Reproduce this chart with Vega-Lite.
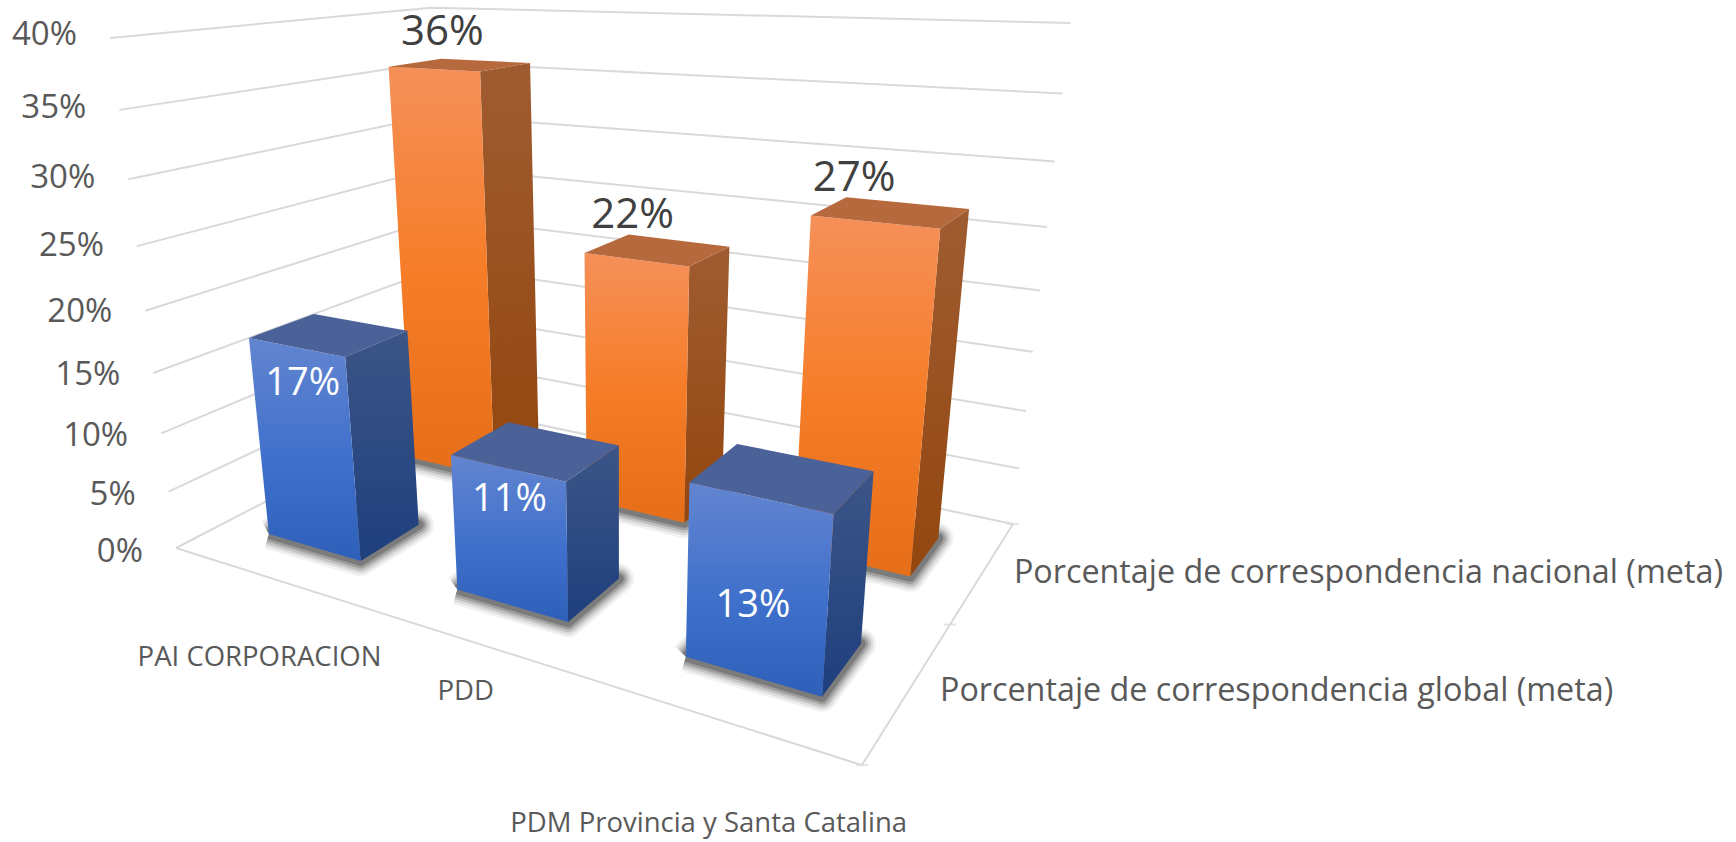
{
"$schema":"https://vega.github.io/schema/vega-lite/v6.json",
"width":1736,"height":842,"padding":0,"autosize":{"type":"none"},
"background":"white",
"config":{"view":{"stroke":null},"text":{"font":"Open Sans"}},
"datasets":{
"barras":[
{"plan":"PAI CORPORACION","serie":"Porcentaje de correspondencia global (meta)","valor":0.17},
{"plan":"PDD","serie":"Porcentaje de correspondencia global (meta)","valor":0.11},
{"plan":"PDM Provincia y Santa Catalina","serie":"Porcentaje de correspondencia global (meta)","valor":0.13},
{"plan":"PAI CORPORACION","serie":"Porcentaje de correspondencia nacional (meta)","valor":0.36},
{"plan":"PDD","serie":"Porcentaje de correspondencia nacional (meta)","valor":0.22},
{"plan":"PDM Provincia y Santa Catalina","serie":"Porcentaje de correspondencia nacional (meta)","valor":0.27}
],
"niveles":[{"nivel":0},{"nivel":0.05},{"nivel":0.1},{"nivel":0.15},{"nivel":0.2},{"nivel":0.25},{"nivel":0.3},{"nivel":0.35},{"nivel":0.4}],
"series":[{"serie":"Porcentaje de correspondencia global (meta)"},{"serie":"Porcentaje de correspondencia nacional (meta)"}],
"marcas":[{"k":0},{"k":1},{"k":2}]
},
"data":{"name":"barras"},
"transform":[
{"calculate":"indexof(['PAI CORPORACION','PDD','PDM Provincia y Santa Catalina'],datum.plan)","as":"i"},
{"calculate":"indexof(['Porcentaje de correspondencia global (meta)','Porcentaje de correspondencia nacional (meta)'],datum.serie)","as":"j"},
{"calculate":"['frente','lado','tapa','sombra']","as":"cara"},
{"flatten":["cara"]},
{"calculate":"[0,1,2,3,4]","as":"esq"},
{"flatten":["esq"]},
{"calculate":"datum.esq%4","as":"e"},
{"calculate":"(datum.i+(datum.cara=='lado'?0.76:((datum.e==1||datum.e==2)?0.76:(datum.j==1?0.267:0.25))))/3","as":"s"},
{"calculate":"(datum.j+(datum.cara=='frente'?0.3:(datum.cara=='lado'?((datum.e==1||datum.e==2)?0.7:0.3):(datum.e>=2?0.7:0.3))))/2","as":"t"},
{"calculate":"datum.cara=='sombra'?0:(datum.cara=='tapa'?datum.valor/0.4:(datum.e>=2?datum.valor/0.4:0))","as":"z"},
{"calculate":"1-0.26855*datum.s+0.2905*datum.t-0.13*datum.z","as":"W"},
{"calculate":"(454.5*datum.s+404.7*datum.t+176-80.3*datum.z)/datum.W","as":"X"},
{"calculate":"(11.6*datum.s-24.1*datum.t+548-515*datum.z)/datum.W","as":"Y"},
{"calculate":"(datum.i+0.5)/3","as":"sc"},
{"calculate":"(datum.j+0.5)/2","as":"tc"},
{"calculate":"1-0.26855*datum.sc+0.2905*datum.tc-0.13*datum.valor/0.4","as":"Wc"},
{"calculate":"(454.5*datum.sc+404.7*datum.tc+176-80.3*datum.valor/0.4)/datum.Wc","as":"Xc"},
{"calculate":"(11.6*datum.sc-24.1*datum.tc+548-515*datum.valor/0.4)/datum.Wc","as":"Yc"},
{"calculate":"1-0.26855*datum.sc","as":"Wb"},
{"calculate":"(454.5*datum.sc+176)/datum.Wb","as":"Xb"},
{"calculate":"(11.6*datum.sc+548)/datum.Wb","as":"Yb"}
],
"encoding":{
"x":{"field":"X","type":"quantitative","scale":{"domain":[0,1736],"nice":false,"zero":false},"axis":null},
"y":{"field":"Y","type":"quantitative","scale":{"domain":[842,0],"nice":false,"zero":false},"axis":null}
},
"layer":[
{"data":{"name":"niveles"},
"transform":[{"calculate":"[0,1,2]","as":"p"},{"flatten":["p"]},
{"calculate":"datum.p==2?1:0","as":"s"},{"calculate":"datum.p==0?0:1","as":"t"},{"calculate":"datum.nivel/0.4","as":"z"},
{"calculate":"1-0.26855*datum.s+0.2905*datum.t-0.13*datum.z","as":"W"},
{"calculate":"(454.5*datum.s+404.7*datum.t+176-80.3*datum.z)/datum.W","as":"X"},
{"calculate":"(11.6*datum.s-24.1*datum.t+548-515*datum.z)/datum.W","as":"Y"}],
"mark":{"type":"line","stroke":"#d9d9d9","strokeWidth":2,"clip":true},
"encoding":{"detail":{"field":"nivel"},"order":{"field":"p","type":"ordinal"}}},
{"data":{"name":"niveles"},
"transform":[{"filter":"datum.nivel==0"},{"calculate":"[0,1,2]","as":"p"},{"flatten":["p"]},
{"calculate":"datum.p==0?0:1","as":"s"},{"calculate":"datum.p==2?1:0","as":"t"},
{"calculate":"1-0.26855*datum.s+0.2905*datum.t","as":"W"},
{"calculate":"(454.5*datum.s+404.7*datum.t+176)/datum.W","as":"X"},
{"calculate":"(11.6*datum.s-24.1*datum.t+548)/datum.W","as":"Y"}],
"mark":{"type":"line","stroke":"#d9d9d9","strokeWidth":2},
"encoding":{"order":{"field":"p","type":"ordinal"}}},
{"data":{"name":"marcas"},
"transform":[{"calculate":"datum.k/2","as":"t"},
{"calculate":"0.73145+0.2905*datum.t","as":"W"},
{"calculate":"(630.5+404.7*datum.t)/datum.W","as":"X"},
{"calculate":"(559.6-24.1*datum.t)/datum.W","as":"Y"}],
"mark":{"type":"tick","orient":"horizontal","color":"#d9d9d9","size":12,"thickness":2}},

{"transform":[{"filter":"datum.j==1&&datum.cara=='sombra'"}],"mark":{"type":"line","fill":"#000000","stroke":"#000000","strokeWidth":30,"opacity":0.05,"strokeJoin":"round"},"encoding":{"detail":{"field":"plan"},"order":{"field":"esq","type":"ordinal"}}},
{"transform":[{"filter":"datum.j==1&&datum.cara=='sombra'"}],"mark":{"type":"line","fill":"#000000","stroke":"#000000","strokeWidth":25,"opacity":0.08,"strokeJoin":"round"},"encoding":{"detail":{"field":"plan"},"order":{"field":"esq","type":"ordinal"}}},
{"transform":[{"filter":"datum.j==1&&datum.cara=='sombra'"}],"mark":{"type":"line","fill":"#000000","stroke":"#000000","strokeWidth":20,"opacity":0.12,"strokeJoin":"round"},"encoding":{"detail":{"field":"plan"},"order":{"field":"esq","type":"ordinal"}}},
{"transform":[{"filter":"datum.j==1&&datum.cara=='sombra'"}],"mark":{"type":"line","fill":"#000000","stroke":"#000000","strokeWidth":15,"opacity":0.17,"strokeJoin":"round"},"encoding":{"detail":{"field":"plan"},"order":{"field":"esq","type":"ordinal"}}},
{"transform":[{"filter":"datum.j==1&&datum.cara=='sombra'"}],"mark":{"type":"line","fill":"#000000","stroke":"#000000","strokeWidth":10,"opacity":0.22,"strokeJoin":"round"},"encoding":{"detail":{"field":"plan"},"order":{"field":"esq","type":"ordinal"}}},
{"transform":[{"filter":"datum.j==1&&datum.cara=='lado'"}],"mark":{"type":"line","strokeWidth":0,"fill":{"gradient":"linear","x1":0,"y1":0,"x2":0,"y2":1,"stops":[{"offset":0,"color":"#9f5c31"},{"offset":1,"color":"#93460e"}]}},"encoding":{"detail":{"field":"plan"},"order":{"field":"esq","type":"ordinal"}}},
{"transform":[{"filter":"datum.j==1&&datum.cara=='frente'"}],"mark":{"type":"line","strokeWidth":0,"fill":{"gradient":"linear","x1":0,"y1":0,"x2":0,"y2":1,"stops":[{"offset":0,"color":"#f59059"},{"offset":0.5,"color":"#f67d28"},{"offset":1,"color":"#e66e18"}]}},"encoding":{"detail":{"field":"plan"},"order":{"field":"esq","type":"ordinal"}}},
{"transform":[{"filter":"datum.j==1&&datum.cara=='tapa'"}],"mark":{"type":"line","strokeWidth":0,"fill":"#b7693e"},"encoding":{"detail":{"field":"plan"},"order":{"field":"esq","type":"ordinal"}}},

{"transform":[{"filter":"datum.j==0&&datum.cara=='sombra'"}],"mark":{"type":"line","fill":"#000000","stroke":"#000000","strokeWidth":30,"opacity":0.05,"strokeJoin":"round"},"encoding":{"detail":{"field":"plan"},"order":{"field":"esq","type":"ordinal"}}},
{"transform":[{"filter":"datum.j==0&&datum.cara=='sombra'"}],"mark":{"type":"line","fill":"#000000","stroke":"#000000","strokeWidth":25,"opacity":0.08,"strokeJoin":"round"},"encoding":{"detail":{"field":"plan"},"order":{"field":"esq","type":"ordinal"}}},
{"transform":[{"filter":"datum.j==0&&datum.cara=='sombra'"}],"mark":{"type":"line","fill":"#000000","stroke":"#000000","strokeWidth":20,"opacity":0.12,"strokeJoin":"round"},"encoding":{"detail":{"field":"plan"},"order":{"field":"esq","type":"ordinal"}}},
{"transform":[{"filter":"datum.j==0&&datum.cara=='sombra'"}],"mark":{"type":"line","fill":"#000000","stroke":"#000000","strokeWidth":15,"opacity":0.17,"strokeJoin":"round"},"encoding":{"detail":{"field":"plan"},"order":{"field":"esq","type":"ordinal"}}},
{"transform":[{"filter":"datum.j==0&&datum.cara=='sombra'"}],"mark":{"type":"line","fill":"#000000","stroke":"#000000","strokeWidth":10,"opacity":0.22,"strokeJoin":"round"},"encoding":{"detail":{"field":"plan"},"order":{"field":"esq","type":"ordinal"}}},
{"transform":[{"filter":"datum.j==0&&datum.cara=='lado'"}],"mark":{"type":"line","strokeWidth":0,"fill":{"gradient":"linear","x1":0,"y1":0,"x2":0,"y2":1,"stops":[{"offset":0,"color":"#3c5587"},{"offset":1,"color":"#1e3f7d"}]}},"encoding":{"detail":{"field":"plan"},"order":{"field":"esq","type":"ordinal"}}},
{"transform":[{"filter":"datum.j==0&&datum.cara=='frente'"}],"mark":{"type":"line","strokeWidth":0,"fill":{"gradient":"linear","x1":0,"y1":0,"x2":0,"y2":1,"stops":[{"offset":0,"color":"#6385d0"},{"offset":0.55,"color":"#3f70cb"},{"offset":1,"color":"#2e60ba"}]}},"encoding":{"detail":{"field":"plan"},"order":{"field":"esq","type":"ordinal"}}},
{"transform":[{"filter":"datum.j==0&&datum.cara=='tapa'"}],"mark":{"type":"line","strokeWidth":0,"fill":"#4b6299"},"encoding":{"detail":{"field":"plan"},"order":{"field":"esq","type":"ordinal"}}},

{"data":{"name":"niveles"},
"transform":[{"calculate":"datum.nivel/0.4","as":"z"},{"calculate":"1-0.13*datum.z","as":"W"},
{"calculate":"(176-80.3*datum.z)/datum.W","as":"X"},{"calculate":"(550-521*datum.z)/datum.W","as":"Y"}],
"mark":{"type":"text","align":"right","baseline":"middle","dx":-33,"dy":2,"fontSize":33,"fill":"#595959"},
"encoding":{"text":{"field":"nivel","type":"quantitative","format":".0%"}}},

{"transform":[{"filter":"datum.cara=='tapa'&&datum.esq==0&&datum.j==1&&datum.i==0"}],"mark":{"type":"text","align":"center","baseline":"middle","dx":-15,"dy":-33,"fontSize":42,"fill":"#404040"},
"encoding":{"x":{"field":"Xc","type":"quantitative"},"y":{"field":"Yc","type":"quantitative"},"text":{"field":"valor","type":"quantitative","format":".0%"}}},
{"transform":[{"filter":"datum.cara=='tapa'&&datum.esq==0&&datum.j==1&&datum.i==1"}],"mark":{"type":"text","align":"center","baseline":"middle","dx":-22,"dy":-34,"fontSize":42,"fill":"#404040"},
"encoding":{"x":{"field":"Xc","type":"quantitative"},"y":{"field":"Yc","type":"quantitative"},"text":{"field":"valor","type":"quantitative","format":".0%"}}},
{"transform":[{"filter":"datum.cara=='tapa'&&datum.esq==0&&datum.j==1&&datum.i==2"}],"mark":{"type":"text","align":"center","baseline":"middle","dx":-33,"dy":-34,"fontSize":42,"fill":"#404040"},
"encoding":{"x":{"field":"Xc","type":"quantitative"},"y":{"field":"Yc","type":"quantitative"},"text":{"field":"valor","type":"quantitative","format":".0%"}}},
{"transform":[{"filter":"datum.cara=='tapa'&&datum.esq==0&&datum.j==0&&datum.i<2"}],"mark":{"type":"text","align":"center","baseline":"middle","dx":-25,"dy":50,"fontSize":38,"fill":"#ffffff"},
"encoding":{"x":{"field":"Xc","type":"quantitative"},"y":{"field":"Yc","type":"quantitative"},"text":{"field":"valor","type":"quantitative","format":".0%"}}},
{"transform":[{"filter":"datum.cara=='tapa'&&datum.esq==0&&datum.j==0&&datum.i==2"}],"mark":{"type":"text","align":"center","baseline":"middle","dx":-28,"dy":130,"fontSize":38,"fill":"#ffffff"},
"encoding":{"x":{"field":"Xc","type":"quantitative"},"y":{"field":"Yc","type":"quantitative"},"text":{"field":"valor","type":"quantitative","format":".0%"}}},

{"transform":[{"filter":"datum.cara=='tapa'&&datum.esq==0&&datum.j==0&&datum.i==0"}],"mark":{"type":"text","align":"center","baseline":"middle","dx":-4,"dy":82,"fontSize":27.5,"fill":"#595959"},
"encoding":{"x":{"field":"Xb","type":"quantitative"},"y":{"field":"Yb","type":"quantitative"},"text":{"field":"plan"}}},
{"transform":[{"filter":"datum.cara=='tapa'&&datum.esq==0&&datum.j==0&&datum.i==1"}],"mark":{"type":"text","align":"center","baseline":"middle","dx":0,"dy":52,"fontSize":27.5,"fill":"#595959"},
"encoding":{"x":{"field":"Xb","type":"quantitative"},"y":{"field":"Yb","type":"quantitative"},"text":{"field":"plan"}}},
{"transform":[{"filter":"datum.cara=='tapa'&&datum.esq==0&&datum.j==0&&datum.i==2"}],"mark":{"type":"text","align":"center","baseline":"middle","dx":-6,"dy":106,"fontSize":27.5,"fill":"#595959"},
"encoding":{"x":{"field":"Xb","type":"quantitative"},"y":{"field":"Yb","type":"quantitative"},"text":{"field":"plan"}}},

{"data":{"name":"series"},
"transform":[{"calculate":"indexof(['Porcentaje de correspondencia global (meta)','Porcentaje de correspondencia nacional (meta)'],datum.serie)","as":"j"},
{"calculate":"(datum.j+0.5)/2","as":"t"},{"calculate":"0.73145+0.2905*datum.t","as":"W"},
{"calculate":"(630.5+404.7*datum.t)/datum.W","as":"X"},{"calculate":"(559.6-24.1*datum.t)/datum.W","as":"Y"}],
"mark":{"type":"text","align":"left","baseline":"middle","dx":30,"dy":3,"fontSize":32.3,"fill":"#595959"},
"encoding":{"text":{"field":"serie"}}}
]
}
